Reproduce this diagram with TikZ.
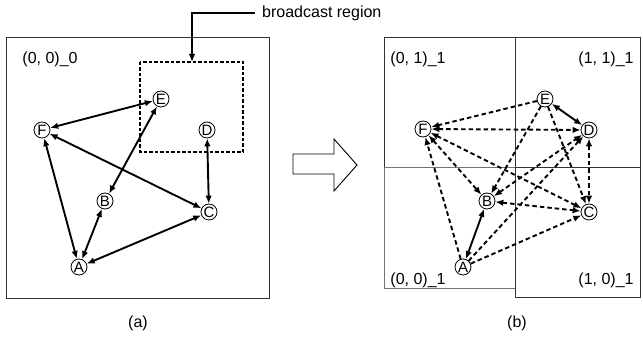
\documentclass[tikz,border=0pt]{standalone}
\usepackage{fontspec}
\setmainfont{Liberation Sans}
\usetikzlibrary{arrows.meta}
\begin{document}
\begin{tikzpicture}[x=1pt,y=-1pt,
  vtx/.style={circle,draw=black,line width=0.8pt,fill=white,inner sep=0pt,
    minimum size=16pt,font=\fontsize{15}{15}\selectfont},
  lbl/.style={font=\fontsize{16}{18}\selectfont,inner sep=0pt},
  tip/.style={-{Latex[length=8pt,width=6.5pt]}},
  both/.style={{Latex[length=8pt,width=6.5pt]}-{Latex[length=8pt,width=6.5pt]}},
  link/.style={line width=1.9pt},
  dlink/.style={line width=1.9pt,dash pattern=on 4.5pt off 3pt},
  frame/.style={draw=black!80,line width=1pt}]
\useasboundingbox (0,0) rectangle (643,347);

% ---------- panel (a) ----------
\draw[frame] (6,38) rectangle (269,299);
\node[lbl] (la) at (50,59) {(0, 0)\_0};
\draw[line width=1.3pt,dash pattern=on 3.5pt off 2pt] (140,62) rectangle (243,152);
\coordinate (bcfrom) at (255,13);
\coordinate (bcto) at (192,62);
\draw[line width=1.5pt,-{Latex[length=8pt,width=6.5pt]}] (bcfrom) -| (bcto);
\node[lbl,anchor=west] (bclbl) at (262,13) {broadcast region};

\node[vtx] (aE) at (161,99) {E};
\node[vtx] (aF) at (42,130) {F};
\node[vtx] (aD) at (207,130) {D};
\node[vtx] (aB) at (105,201) {B};
\node[vtx] (aC) at (209,212) {C};
\node[vtx] (aA) at (79,267) {A};

\draw[link,both] (aF) -- (aE);
\draw[link,both] (aE) -- (aB);
\draw[link,both] (aF) -- (aA);
\draw[link,both] (aF) -- (aC);
\draw[link,both] (aD) -- (aC);
\draw[link,both] (aB) -- (aA);
\draw[link,both] (aA) -- (aC);

\node[lbl] (capa) at (138,323) {(a)};

% ---------- hollow arrow ----------
\draw[line width=0.9pt,fill=white] (293,154) -- (334,154) -- (334,139) -- (357,165)
  -- (334,191) -- (334,174) -- (293,174) -- cycle;

% ---------- panel (b) ----------
\draw[frame] (384,38) rectangle (515,168);
\draw[frame] (515,38) rectangle (640,168);
\draw[frame] (515,168) rectangle (640,298);
\draw[frame,draw=black!55] (384,168) rectangle (515,289);
\draw[frame] (515,38) -- (515,298);

\node[lbl] (q01) at (418,59) {(0, 1)\_1};
\node[lbl] (q11) at (606,59) {(1, 1)\_1};
\node[lbl] (q00) at (418,280) {(0, 0)\_1};
\node[lbl] (q10) at (606,280) {(1, 0)\_1};

\node[vtx] (bE) at (545,99) {E};
\node[vtx] (bF) at (423,129) {F};
\node[vtx] (bD) at (589,130) {D};
\node[vtx] (bB) at (487,201) {B};
\node[vtx] (bC) at (589,212) {C};
\node[vtx] (bA) at (463,267) {A};

% direct links
\draw[link,both] (bE) -- (bD);
\draw[link,both] (bB) -- (bA);
% relayed links
\draw[dlink,tip] (bE) -- (bF);
\draw[dlink,tip] (bE) -- (bB);
\draw[dlink,tip] (bE) -- (bC);
\draw[dlink,both] (bF) -- (bD);
\draw[dlink,both] (bF) -- (bC);
\draw[dlink,both] (bF) -- (bB);
\draw[dlink,both] (bB) -- (bD);
\draw[dlink,both] (bB) -- (bC);
\draw[dlink,both] (bD) -- (bC);
\draw[dlink,tip] (bA) -- (bF);
\draw[dlink,tip] (bA) -- (bD);
\draw[dlink,tip] (bA) -- (bC);

\node[lbl] (capb) at (517,323) {(b)};
\end{tikzpicture}
\end{document}
